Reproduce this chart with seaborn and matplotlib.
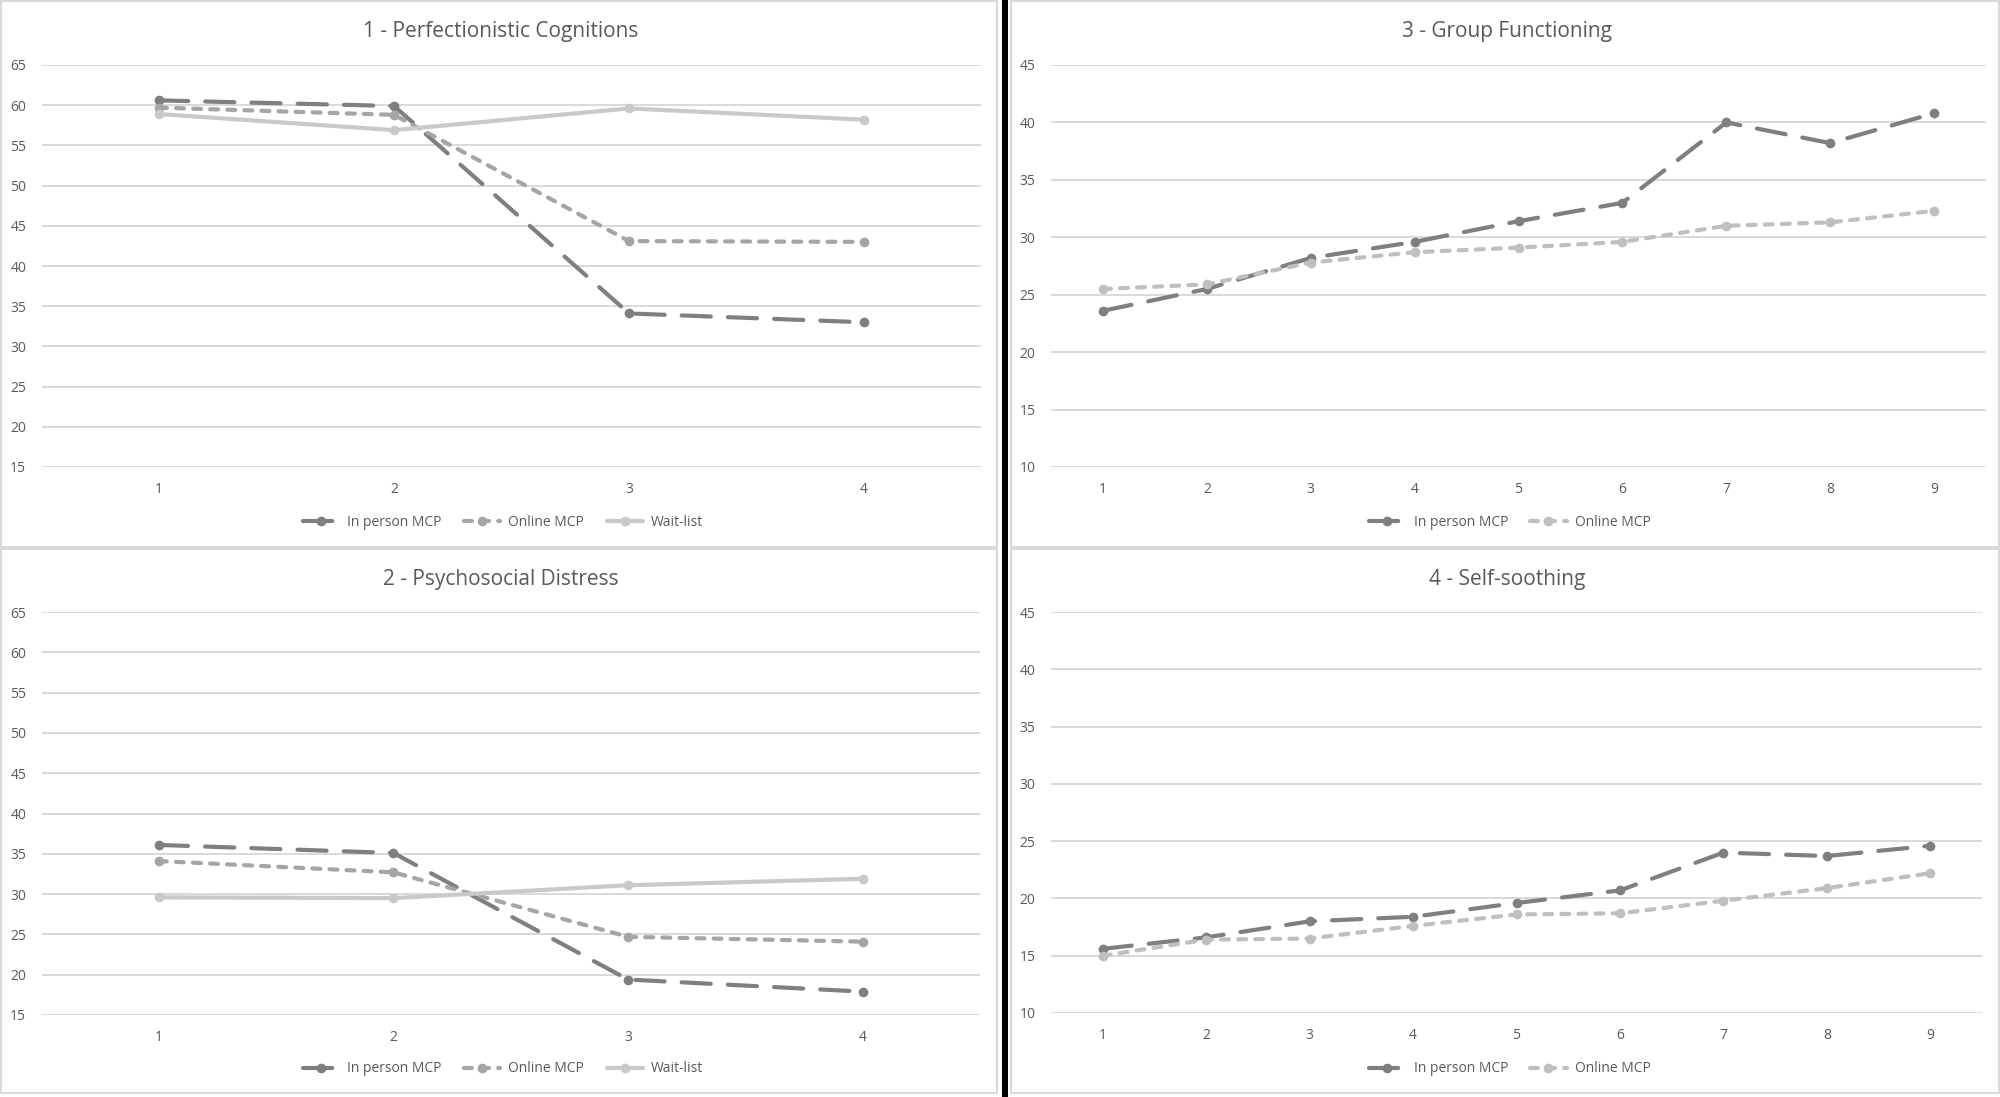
import numpy as np
import pandas as pd
import matplotlib
matplotlib.use("Agg")
import matplotlib.pyplot as plt
from matplotlib.patches import Rectangle
import seaborn as sns

# ---------------- data ----------------
sessions_4 = [1, 2, 3, 4]
sessions_9 = [1, 2, 3, 4, 5, 6, 7, 8, 9]

pc_inperson = [60.6, 59.9, 34.1, 33.0]
pc_online = [59.7, 58.8, 43.1, 43.0]
pc_waitlist = [58.9, 56.9, 59.6, 58.2]

pd_inperson = [36.1, 35.1, 19.4, 17.9]
pd_online = [34.1, 32.7, 24.7, 24.1]
pd_waitlist = [29.6, 29.5, 31.1, 31.9]

gf_inperson = [23.6, 25.5, 28.2, 29.6, 31.4, 33.0, 40.0, 38.2, 40.8]
gf_online = [25.5, 25.9, 27.8, 28.7, 29.1, 29.6, 31.0, 31.3, 32.3]

ss_inperson = [15.6, 16.6, 18.0, 18.4, 19.6, 20.7, 24.0, 23.7, 24.6]
ss_online = [15.0, 16.4, 16.5, 17.6, 18.6, 18.7, 19.8, 20.9, 22.2]

groups3 = ["In person MCP", "Online MCP", "Wait-list"]
groups2 = ["In person MCP", "Online MCP"]

titles = ["1 - Perfectionistic Cognitions", "2 - Psychosocial Distress",
          "3 - Group Functioning", "4 - Self-soothing"]
yticks_left = [15, 20, 25, 30, 35, 40, 45, 50, 55, 60, 65]
yticks_right = [10, 15, 20, 25, 30, 35, 40, 45]

# ---------------- style ----------------
sns.set_theme(style="white")
plt.rcParams["font.family"] = ["Open Sans", "DejaVu Sans"]
TXT = "#595959"
GRID = "#d9d9d9"

W, H = 2000, 1097
fig = plt.figure(figsize=(W / 100, H / 100), dpi=100)
fig.patch.set_facecolor("white")


def fx(px):
    return px / W


def fy(py):
    return 1 - py / H


def make_df(x, series, names):
    rows = []
    for name, vals in zip(names, series):
        for xi, v in zip(x, vals):
            rows.append({"session": xi, "score": v, "group": name})
    return pd.DataFrame(rows)


def panel(rect_px, x, series, names, palette, ylim, yticks, title, title_xy, legend_xy):
    l, t, r, b = rect_px
    ax = fig.add_axes([fx(l), fy(b), fx(r - l), (b - t) / H])
    df = make_df(x, series, names)
    dashes = {"In person MCP": (7, 4.1), "Online MCP": (1.9, 2.2), "Wait-list": ""}
    markers = {n: "o" for n in names}
    sns.lineplot(data=df, x="session", y="score", hue="group", style="group",
                 hue_order=names, style_order=names,
                 palette=palette, dashes={n: dashes[n] for n in names},
                 markers=markers, markersize=7, markeredgewidth=0,
                 linewidth=3.0, legend=False, ax=ax)
    for ln in ax.lines:
        ln.set_dash_capstyle("round")
        ln.set_solid_capstyle("round")
    ax.set_xlim(0.5, len(x) + 0.5)
    ax.set_ylim(*ylim)
    ax.set_xticks(x)
    ax.set_xticklabels([str(v) for v in x])
    ax.set_yticks(yticks)
    ax.set_yticklabels([str(v) for v in yticks])
    ax.set_xlabel("")
    ax.set_ylabel("")
    for s in ax.spines.values():
        s.set_visible(False)
    ax.yaxis.grid(True, color=GRID, linewidth=1.4)
    ax.xaxis.grid(False)
    ax.set_axisbelow(True)
    ax.tick_params(axis="both", length=0, labelsize=10, labelcolor=TXT)
    ax.tick_params(axis="y", pad=11)
    ax.tick_params(axis="x", pad=11)
    ax.patch.set_alpha(0)
    fig.text(fx(title_xy[0]), fy(title_xy[1]), title, ha="center", va="center",
             fontsize=15, color=TXT)
    ax.legend(handles=list(ax.lines), labels=names, loc="center",
              bbox_to_anchor=(fx(legend_xy[0]), fy(legend_xy[1])),
              bbox_transform=fig.transFigure, ncol=len(names), frameon=False,
              fontsize=10, handlelength=2.6, handletextpad=0.6,
              columnspacing=1.6, labelcolor=TXT)
    return ax


pal3 = {"In person MCP": "#7f7f7f", "Online MCP": "#a5a5a5", "Wait-list": "#c9c9c9"}
pal2 = {"In person MCP": "#7f7f7f", "Online MCP": "#bfbfbf"}

# panel 1
panel((41.5, 65, 981.5, 467), sessions_4, [pc_inperson, pc_online, pc_waitlist], groups3,
      pal3, (15, 65), yticks_left, titles[0], (501, 31), (503, 522))
# panel 2
panel((41.5, 612, 980, 1015), sessions_4, [pd_inperson, pd_online, pd_waitlist], groups3,
      pal3, (15, 65), yticks_left, titles[1], (501, 579), (503, 1069))
# panel 3
panel((1051, 65, 1986, 467), sessions_9, [gf_inperson, gf_online], groups2,
      pal2, (10, 45), yticks_right, titles[2], (1507, 31), (1510, 522))
# panel 4
panel((1051, 612, 1982, 1013), sessions_9, [ss_inperson, ss_online], groups2,
      pal2, (10, 45), yticks_right, titles[3], (1507, 579), (1510, 1069))

# panel borders and separators
for (l, t, r, b) in [(1, 1, 997, 547), (1, 549, 997, 1093),
                     (1011, 1, 1999, 547), (1011, 549, 1999, 1093)]:
    fig.add_artist(Rectangle((fx(l), fy(b)), fx(r - l), (b - t) / H,
                             transform=fig.transFigure, fill=False,
                             edgecolor=GRID, linewidth=1.5))
fig.add_artist(Rectangle((fx(1002), 0), fx(6), 1, transform=fig.transFigure,
                         facecolor="black", edgecolor="none"))

fig.savefig("out.png", dpi=100, facecolor="white")
